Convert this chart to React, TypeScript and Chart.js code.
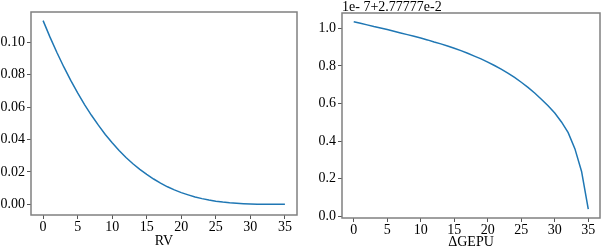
import React, { useEffect, useRef } from "react";
import { Chart, registerables } from "chart.js";

Chart.register(...registerables);

const xValues = [0, 1, 2, 3, 4, 5, 6, 7, 8, 9, 10, 11, 12, 13, 14, 15, 16, 17, 18, 19, 20, 21, 22, 23, 24, 25, 26, 27, 28, 29, 30, 31, 32, 33, 34, 35];
const rvValues = [0.1133, 0.1031, 0.0936, 0.0847, 0.0764, 0.0687, 0.0615, 0.0549, 0.0488, 0.0431, 0.038, 0.0332, 0.0289, 0.025, 0.0215, 0.0184, 0.0156, 0.0131, 0.0108, 0.0089, 0.0072, 0.0058, 0.0045, 0.0035, 0.0026, 0.0019, 0.00137, 0.00094, 0.00061, 0.00037, 0.0002, 0.0001, 0.00004, 0.00001, 0, 0];
const gepuValues = [1.035, 1.027, 1.018, 1.009, 1.001, 0.993, 0.984, 0.975, 0.966, 0.957, 0.948, 0.938, 0.927, 0.917, 0.906, 0.894, 0.881, 0.867, 0.852, 0.837, 0.82, 0.802, 0.783, 0.762, 0.739, 0.713, 0.686, 0.656, 0.623, 0.588, 0.549, 0.502, 0.445, 0.36, 0.239, 0.039];
const xTicks = [0, 5, 10, 15, 20, 25, 30, 35];
const rvTicks = [0, 0.02, 0.04, 0.06, 0.08, 0.1];
const gepuTicks = [0, 0.2, 0.4, 0.6, 0.8, 1.0];
const leftTitle = "RV";
const rightTitle = "ΔGEPU";
const offsetText = "1e- 7+2.77777e-2";

const FONT = "'Liberation Serif', 'Times New Roman', serif";
const LINE = "#1f77b4";
const FRAME = "#808080";
const FS = 14;

const framePlugin = (extraText: string | null) => ({
  id: "frame" + (extraText ? "2" : "1"),
  afterDraw(chart: any) {
    const { ctx, chartArea } = chart;
    ctx.save();
    ctx.strokeStyle = FRAME;
    ctx.lineWidth = 1.5;
    ctx.strokeRect(chartArea.left, chartArea.top, chartArea.right - chartArea.left, chartArea.bottom - chartArea.top);
    if (extraText) {
      ctx.fillStyle = "#000";
      ctx.font = FS + "px " + FONT;
      ctx.textAlign = "left";
      ctx.textBaseline = "alphabetic";
      ctx.fillText(extraText, chartArea.left, chartArea.top - 2);
    }
    ctx.restore();
  },
});

function makeConfig(
  values: number[],
  yTicks: number[],
  yMin: number,
  yMax: number,
  decimals: number,
  title: string,
  yWidth: number,
  xHeight: number,
  padTop: number,
  titleBottom: number,
  extra: string | null
): any {
  return {
    type: "line",
    data: {
      datasets: [
        {
          data: xValues.map((x, i) => ({ x, y: values[i] })),
          borderColor: LINE,
          borderWidth: 1.5,
          pointRadius: 0,
          tension: 0,
          fill: false,
        },
      ],
    },
    options: {
      animation: false,
      responsive: false,
      maintainAspectRatio: false,
      layout: { padding: { top: padTop, right: 3, left: 0, bottom: 0 } },
      plugins: { legend: { display: false }, tooltip: { enabled: false } },
      scales: {
        x: {
          type: "linear",
          min: -1.75,
          max: 36.75,
          afterBuildTicks: (s: any) => {
            s.ticks = xTicks.map((v) => ({ value: v }));
          },
          afterFit: (s: any) => {
            s.height = xHeight;
          },
          ticks: {
            color: "#000",
            font: { family: FONT, size: FS },
            padding: 0,
            maxRotation: 0,
            autoSkip: false,
            callback: (v: any) => String(v),
          },
          grid: { display: true, drawOnChartArea: false, drawTicks: true, tickLength: 4, color: "#555" },
          border: { display: false },
          title: { display: true, text: title, color: "#000", font: { family: FONT, size: FS }, padding: { top: 0, bottom: titleBottom } },
        },
        y: {
          type: "linear",
          min: yMin,
          max: yMax,
          afterBuildTicks: (s: any) => {
            s.ticks = yTicks.map((v) => ({ value: v }));
          },
          afterFit: (s: any) => {
            s.width = yWidth;
          },
          ticks: {
            color: "#000",
            font: { family: FONT, size: FS },
            padding: 2,
            autoSkip: false,
            callback: (v: any) => Number(v).toFixed(decimals),
          },
          grid: { display: true, drawOnChartArea: false, drawTicks: true, tickLength: 4, color: "#555" },
          border: { display: false },
        },
      },
    },
    plugins: [framePlugin(extra)],
  };
}

export default function App() {
  const ref1 = useRef<HTMLCanvasElement>(null);
  const ref2 = useRef<HTMLCanvasElement>(null);

  useEffect(() => {
    document.body.style.margin = "0";
    const c1 = new Chart(ref1.current!, makeConfig(rvValues, rvTicks, -0.0066, 0.1186, 2, leftTitle, 31, 33, 12, -2, null));
    const c2 = new Chart(ref2.current!, makeConfig(gepuValues, gepuTicks, -0.0085, 1.081, 1, rightTitle, 42, 30, 13, -3, offsetText));
    return () => {
      c1.destroy();
      c2.destroy();
    };
  }, []);

  return (
    <div style={{ position: "relative", width: 603, height: 248, background: "#fff" }}>
      <canvas ref={ref1} width={300} height={248} style={{ position: "absolute", left: 0, top: 0, width: 300, height: 248 }} />
      <canvas ref={ref2} width={303} height={248} style={{ position: "absolute", left: 300, top: 0, width: 303, height: 248 }} />
    </div>
  );
}
